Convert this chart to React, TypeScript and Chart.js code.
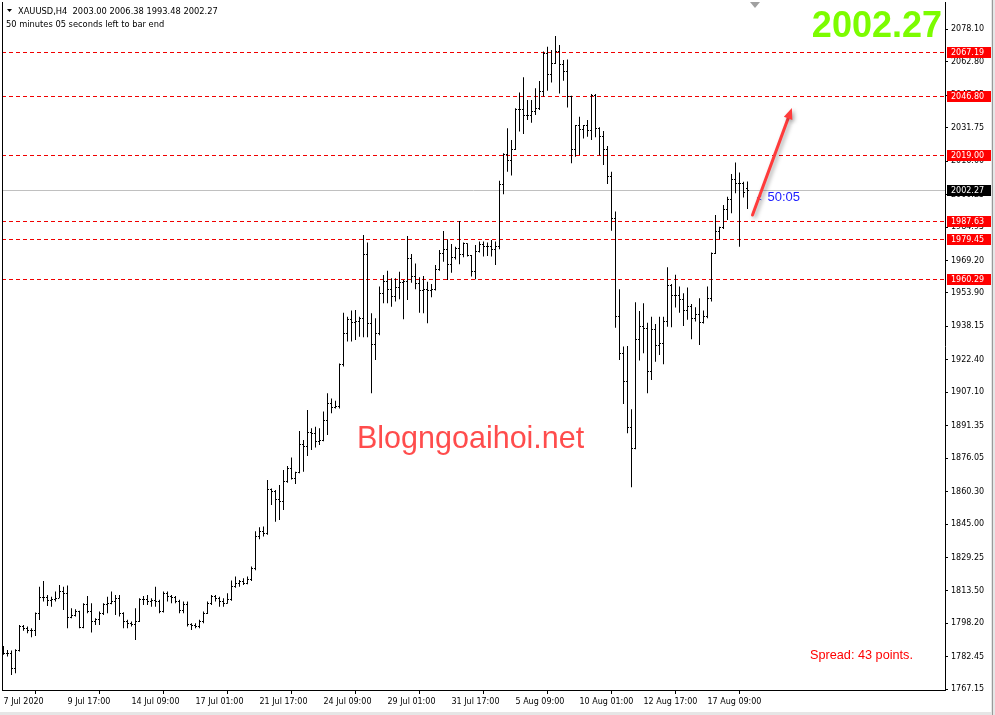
import React, { useEffect, useRef } from 'react';
import { Chart, registerables } from 'chart.js';

Chart.register(...registerables);

// ---- DATA (XAUUSD H4, bar index 0 = 7 Jul 2020 01:00) ----
const opens = [
  1785.4, 1784.1, 1783.8, 1777.1, 1785.4, 1796.7, 1795.9, 1794.8, 1794.8, 1803.0,
  1810.5, 1810.5, 1808.9, 1809.6, 1810.0, 1813.2, 1812.4, 1801.1, 1801.7, 1803.8,
  1796.4, 1806.9, 1803.8, 1799.1, 1799.9, 1803.0, 1807.2, 1807.7, 1808.5, 1810.0,
  1803.0, 1799.1, 1798.3, 1797.5, 1799.1, 1809.3, 1809.6, 1808.5, 1808.9, 1808.5,
  1803.8, 1812.4, 1810.8, 1810.5, 1808.5, 1804.5, 1806.9, 1797.5, 1797.0, 1796.7,
  1799.1, 1803.0, 1807.7, 1811.1, 1810.0, 1808.5, 1807.7, 1809.3, 1815.5, 1816.8,
  1817.9, 1817.1, 1818.7, 1824.2, 1839.1, 1841.4, 1840.6, 1861.1, 1860.3, 1856.4,
  1855.6, 1865.0, 1871.3, 1866.6, 1869.2, 1882.7, 1881.5, 1888.1, 1887.8, 1883.8,
  1884.6, 1893.7, 1901.9, 1900.0, 1900.6, 1920.0, 1934.9, 1941.5, 1939.9, 1940.4,
  1941.9, 1971.8, 1939.6, 1929.7, 1934.9, 1953.7, 1959.5, 1955.6, 1952.2, 1956.5,
  1958.7, 1959.2, 1970.2, 1961.6, 1958.4, 1955.0, 1955.3, 1955.0, 1955.3, 1964.7,
  1972.6, 1974.4, 1967.5, 1970.7, 1974.9, 1972.2, 1977.0, 1971.3, 1964.2, 1973.6,
  1976.5, 1975.7, 1976.0, 1974.4, 1975.7, 2005.2, 2018.9, 2016.5, 2021.7, 2040.1,
  2040.1, 2037.3, 2037.3, 2039.3, 2040.9, 2048.7, 2066.5, 2056.6, 2062.1, 2067.6,
  2061.3, 2058.1, 2046.4, 2021.7, 2032.6, 2030.7, 2032.6, 2030.2, 2047.0, 2031.5,
  2027.8, 2021.7, 2008.7, 1989.0, 1943.0, 1925.5, 1912.1, 1890.6, 1880.4, 1932.1,
  1938.0, 1937.2, 1916.8, 1936.8, 1929.1, 1930.2, 1940.4, 1957.6, 1952.9, 1952.9,
  1950.9, 1945.4, 1947.7, 1941.9, 1943.5, 1939.9, 1942.7, 1951.4, 1972.6, 1982.8,
  1984.8, 1993.0, 1997.7, 2007.1, 2005.5, 2005.5, 2003.0,
];
const highs = [
  1787.6, 1785.7, 1785.4, 1786.0, 1797.5, 1797.5, 1796.7, 1795.9, 1803.3, 1815.5,
  1818.2, 1811.6, 1810.8, 1813.2, 1816.3, 1815.5, 1816.0, 1805.3, 1804.9, 1804.2,
  1807.7, 1811.1, 1807.7, 1800.6, 1803.8, 1807.7, 1810.8, 1813.2, 1811.6, 1811.6,
  1803.5, 1799.9, 1799.1, 1805.3, 1810.0, 1811.1, 1811.6, 1810.0, 1815.5, 1809.3,
  1813.2, 1813.2, 1811.6, 1811.1, 1809.3, 1808.5, 1808.5, 1798.3, 1798.3, 1799.9,
  1803.8, 1808.5, 1811.6, 1811.6, 1810.8, 1810.0, 1812.4, 1818.4, 1820.3, 1818.7,
  1819.5, 1820.3, 1825.0, 1841.6, 1843.5, 1843.8, 1865.8, 1861.8, 1861.1, 1863.4,
  1870.5, 1872.4, 1876.4, 1869.7, 1888.8, 1884.6, 1898.7, 1890.1, 1890.9, 1890.1,
  1898.0, 1906.6, 1904.2, 1903.1, 1920.7, 1944.6, 1942.7, 1945.6, 1945.9, 1942.7,
  1981.2, 1977.6, 1944.3, 1942.0, 1956.9, 1962.3, 1964.4, 1960.8, 1960.8, 1963.9,
  1960.0, 1980.7, 1972.2, 1967.8, 1961.3, 1961.9, 1959.2, 1958.1, 1967.1, 1974.1,
  1983.1, 1979.2, 1977.0, 1975.7, 1987.8, 1977.6, 1977.3, 1971.8, 1976.5, 1978.1,
  1978.1, 1977.6, 1978.8, 1978.1, 2006.7, 2019.7, 2031.5, 2026.0, 2040.9, 2048.3,
  2055.5, 2044.8, 2044.8, 2050.3, 2053.7, 2067.6, 2069.9, 2068.4, 2074.9, 2070.7,
  2063.6, 2063.9, 2046.8, 2033.0, 2036.9, 2033.0, 2035.4, 2047.6, 2047.6, 2032.0,
  2030.2, 2023.1, 2011.0, 1992.2, 1955.6, 1928.6, 1928.9, 1899.1, 1949.5, 1945.4,
  1949.0, 1939.9, 1942.7, 1939.3, 1942.7, 1942.7, 1966.0, 1958.1, 1962.4, 1956.9,
  1953.7, 1956.5, 1948.7, 1947.1, 1951.4, 1945.6, 1956.9, 1972.9, 1990.6, 1985.1,
  1995.3, 1999.2, 2009.9, 2015.3, 2010.6, 2006.3, 2006.38,
];
const lows = [
  1783.4, 1782.6, 1773.9, 1774.7, 1784.9, 1794.7, 1793.6, 1791.7, 1792.3, 1799.8,
  1808.5, 1806.4, 1806.1, 1808.5, 1810.0, 1804.5, 1795.9, 1800.6, 1801.4, 1795.9,
  1795.9, 1803.0, 1793.9, 1797.5, 1797.5, 1802.2, 1803.0, 1807.2, 1802.2, 1801.4,
  1795.9, 1795.9, 1796.7, 1790.4, 1798.8, 1806.9, 1806.9, 1806.1, 1806.1, 1803.0,
  1803.3, 1808.5, 1807.7, 1807.7, 1803.0, 1803.0, 1796.7, 1795.1, 1795.9, 1795.9,
  1798.3, 1802.6, 1806.9, 1808.5, 1806.1, 1806.1, 1807.4, 1808.9, 1815.0, 1815.5,
  1816.3, 1816.6, 1818.2, 1823.2, 1837.8, 1839.1, 1840.0, 1854.0, 1846.1, 1846.9,
  1851.6, 1864.5, 1866.0, 1863.9, 1868.9, 1869.7, 1877.1, 1879.9, 1881.1, 1882.2,
  1884.0, 1887.0, 1897.2, 1899.5, 1899.5, 1919.2, 1931.0, 1931.0, 1931.7, 1933.3,
  1933.0, 1933.0, 1906.6, 1922.3, 1934.0, 1949.0, 1949.0, 1947.4, 1949.8, 1950.9,
  1941.5, 1950.6, 1958.7, 1955.6, 1944.6, 1944.3, 1939.6, 1951.8, 1955.0, 1964.4,
  1968.6, 1960.0, 1963.4, 1969.7, 1967.4, 1970.7, 1971.0, 1961.6, 1960.3, 1972.9,
  1971.0, 1971.3, 1971.0, 1967.1, 1974.5, 2000.4, 2011.0, 2009.2, 2021.2, 2029.9,
  2028.8, 2035.4, 2034.1, 2037.7, 2040.1, 2046.4, 2049.2, 2053.0, 2061.8, 2047.9,
  2053.9, 2041.2, 2015.0, 2018.1, 2018.9, 2026.7, 2027.5, 2026.0, 2027.2, 2018.7,
  2014.2, 2005.2, 1983.2, 1937.5, 1922.3, 1901.6, 1887.8, 1862.3, 1880.2, 1922.0,
  1925.5, 1906.6, 1912.9, 1921.5, 1924.7, 1920.3, 1938.0, 1937.7, 1947.0, 1944.6,
  1938.3, 1941.2, 1932.1, 1940.4, 1929.4, 1939.5, 1942.0, 1949.8, 1972.2, 1979.2,
  1984.0, 1988.3, 1991.4, 2000.8, 1975.7, 1998.9, 1993.48,
];
const closes = [
  1784.1, 1783.8, 1777.1, 1785.4, 1796.7, 1795.9, 1794.8, 1794.8, 1803.0, 1810.5,
  1810.5, 1808.9, 1809.6, 1810.0, 1813.2, 1812.4, 1801.1, 1801.7, 1803.8, 1796.4,
  1806.9, 1803.8, 1799.1, 1799.9, 1803.0, 1807.2, 1807.7, 1808.5, 1810.0, 1803.0,
  1799.1, 1798.3, 1797.5, 1799.1, 1809.3, 1809.6, 1808.5, 1808.9, 1808.5, 1803.8,
  1812.4, 1810.8, 1810.5, 1808.5, 1804.5, 1806.9, 1797.5, 1797.0, 1796.7, 1799.1,
  1803.0, 1807.7, 1811.1, 1810.0, 1808.5, 1807.7, 1809.3, 1815.5, 1816.8, 1817.9,
  1817.1, 1818.7, 1824.2, 1839.1, 1841.4, 1840.6, 1861.1, 1860.3, 1856.4, 1855.6,
  1865.0, 1871.3, 1866.6, 1869.2, 1882.7, 1881.5, 1888.1, 1887.8, 1883.8, 1884.6,
  1893.7, 1901.9, 1900.0, 1900.6, 1920.0, 1934.9, 1941.5, 1939.9, 1940.4, 1941.9,
  1971.8, 1939.6, 1929.7, 1934.9, 1953.7, 1959.5, 1955.6, 1952.2, 1956.5, 1958.7,
  1959.2, 1970.2, 1961.6, 1958.4, 1955.0, 1955.3, 1955.0, 1955.3, 1964.7, 1972.6,
  1974.4, 1967.5, 1970.7, 1974.9, 1972.2, 1977.0, 1971.3, 1964.2, 1973.6, 1976.5,
  1975.7, 1976.0, 1974.4, 1975.7, 2005.2, 2018.9, 2016.5, 2021.7, 2040.1, 2040.1,
  2037.3, 2037.3, 2039.3, 2040.9, 2048.7, 2066.5, 2056.6, 2062.1, 2067.6, 2061.3,
  2058.1, 2046.4, 2021.7, 2032.6, 2030.7, 2032.6, 2030.2, 2047.0, 2031.5, 2027.8,
  2021.7, 2008.7, 1989.0, 1943.0, 1925.5, 1912.1, 1890.6, 1880.4, 1932.1, 1938.0,
  1937.2, 1916.8, 1936.8, 1929.1, 1930.2, 1940.4, 1957.6, 1952.9, 1952.9, 1950.9,
  1945.4, 1947.7, 1941.9, 1943.5, 1939.9, 1942.7, 1951.4, 1972.6, 1982.8, 1984.8,
  1993.0, 1997.7, 2007.1, 2005.5, 2005.5, 2001.1, 2002.27,
];

const xTickIndex = [0, 16, 32, 48, 64, 80, 96, 112, 128, 144, 160, 176];
const xTickLabels = [
  '7 Jul 2020', '9 Jul 17:00', '14 Jul 09:00', '17 Jul 01:00', '21 Jul 17:00', '24 Jul 09:00',
  '29 Jul 01:00', '31 Jul 17:00', '5 Aug 09:00', '10 Aug 01:00', '12 Aug 17:00', '17 Aug 09:00',
];
const yTickValues = [
  2078.10, 2062.80, 2047.05, 2031.75, 2016.00, 2000.25, 1984.95, 1969.20, 1953.90, 1938.15,
  1922.40, 1907.10, 1891.35, 1876.05, 1860.30, 1845.00, 1829.25, 1813.50, 1798.20, 1782.45, 1767.15,
];
const levelValues = [2067.19, 2046.80, 2019.00, 1987.63, 1979.45, 1960.29];
const bidValue = 2002.27;
const symbolLine = 'XAUUSD,H4  2003.00 2006.38 1993.48 2002.27';
const timerLine = '50 minutes 05 seconds left to bar end';
const timerShort = '50:05';
const spreadText = 'Spread: 43 points.';
const watermark = 'Blogngoaihoi.net';
const arrowFrom = { x: 187.25, y: 1990.6 };
const arrowTo = { x: 197.1, y: 2041.0 };

const FONT = "'Liberation Sans', Arial, sans-serif";
const SMALL = "'DejaVu Sans', Verdana, sans-serif";

const mt4Plugin = {
  id: 'mt4Overlay',
  beforeDatasetsDraw(chart: any) {
    const { ctx, chartArea: a } = chart;
    const y = chart.scales.y;
    ctx.save();
    ctx.lineWidth = 1;
    const by = Math.round(y.getPixelForValue(bidValue)) + 0.5;
    ctx.strokeStyle = '#c0c0c0';
    ctx.beginPath();
    ctx.moveTo(a.left, by);
    ctx.lineTo(a.right, by);
    ctx.stroke();
    ctx.strokeStyle = '#f00000';
    ctx.setLineDash([4, 3]);
    levelValues.forEach((v) => {
      const py = Math.round(y.getPixelForValue(v)) + 0.5;
      ctx.beginPath();
      ctx.moveTo(a.left, py);
      ctx.lineTo(a.right, py);
      ctx.stroke();
    });
    ctx.restore();
  },
  afterDatasetsDraw(chart: any) {
    const { ctx } = chart;
    const x = chart.scales.x;
    const y = chart.scales.y;
    ctx.save();
    ctx.fillStyle = '#000';
    for (let i = 0; i < opens.length; i++) {
      const col = Math.round(x.getPixelForValue(i) - 0.5);
      const yo = Math.floor(y.getPixelForValue(opens[i]));
      const yc = Math.floor(y.getPixelForValue(closes[i]));
      ctx.fillRect(col - 1, yo, 1, 1);
      ctx.fillRect(col + 1, yc, 1, 1);
    }
    ctx.restore();
  },
  afterDraw(chart: any) {
    const { ctx, chartArea: a } = chart;
    const x = chart.scales.x;
    const y = chart.scales.y;
    ctx.save();
    ctx.strokeStyle = '#000';
    ctx.lineWidth = 1;
    ctx.beginPath();
    ctx.moveTo(a.left + 0.5, a.top);
    ctx.lineTo(a.left + 0.5, a.bottom);
    ctx.stroke();

    // window edges
    ctx.fillStyle = '#e6e6e6';
    ctx.fillRect(991, 0, 4, 715);
    ctx.fillRect(0, 712, 995, 3);
    ctx.fillStyle = '#9a9a9a';
    ctx.fillRect(992, 0, 1, 715);

    // right-axis price labels
    ctx.font = `8px ${SMALL}`;
    ctx.textBaseline = 'middle';
    ctx.textAlign = 'left';
    const drawBox = (v: number, bg: string) => {
      const py = Math.round(y.getPixelForValue(v));
      ctx.fillStyle = bg;
      ctx.fillRect(a.right + 2, py - 5, 44, 11);
      ctx.fillStyle = '#fff';
      ctx.fillText(v.toFixed(2), a.right + 6, py + 0.5);
    };
    levelValues.forEach((v) => drawBox(v, '#ff0000'));
    drawBox(bidValue, '#000000');

    // header
    ctx.fillStyle = '#000';
    ctx.beginPath();
    ctx.moveTo(7, 9);
    ctx.lineTo(12, 9);
    ctx.lineTo(9.5, 12);
    ctx.closePath();
    ctx.fill();
    ctx.font = `8.3px ${SMALL}`;
    ctx.textBaseline = 'alphabetic';
    ctx.fillText(symbolLine, 18, 14);
    ctx.fillText(timerLine, 6, 27);

    // shift marker
    ctx.fillStyle = '#a0a0a0';
    ctx.beginPath();
    ctx.moveTo(750, 2);
    ctx.lineTo(760, 2);
    ctx.lineTo(755, 8);
    ctx.closePath();
    ctx.fill();

    // big price
    ctx.fillStyle = '#7cfc00';
    ctx.font = `bold 36px ${FONT}`;
    ctx.textAlign = 'right';
    ctx.fillText(bidValue.toFixed(2), 942, 37);

    // watermark
    ctx.textAlign = 'left';
    ctx.fillStyle = 'rgba(255,45,45,0.85)';
    ctx.font = `30.5px ${FONT}`;
    ctx.fillText(watermark, 357, 448);

    // spread
    ctx.fillStyle = '#ff0000';
    ctx.font = `12.7px ${FONT}`;
    ctx.fillText(spreadText, 810, 659);

    // timer near last bar
    const lastX = x.getPixelForValue(opens.length - 1);
    const bidY = y.getPixelForValue(bidValue);
    ctx.fillStyle = '#2020ff';
    ctx.font = `13px ${FONT}`;
    ctx.fillText(timerShort, lastX + 20, bidY + 11);
    ctx.font = `9px ${FONT}`;
    ctx.fillText('<', lastX + 9, bidY + 11);

    // arrow
    const x0 = x.getPixelForValue(arrowFrom.x);
    const y0 = y.getPixelForValue(arrowFrom.y);
    const x1 = x.getPixelForValue(arrowTo.x);
    const y1 = y.getPixelForValue(arrowTo.y);
    const dx = x1 - x0, dy = y1 - y0;
    const len = Math.hypot(dx, dy);
    const ux = dx / len, uy = dy / len;
    const hl = 11, hw = 4.5;
    const bx = x1 - ux * hl, byy = y1 - uy * hl;
    ctx.shadowColor = 'rgba(0,0,0,0.35)';
    ctx.shadowBlur = 4;
    ctx.shadowOffsetX = 2;
    ctx.shadowOffsetY = 2;
    ctx.strokeStyle = '#ff3b3b';
    ctx.fillStyle = '#ff3b3b';
    ctx.lineWidth = 3;
    ctx.lineCap = 'round';
    ctx.beginPath();
    ctx.moveTo(x0, y0);
    ctx.lineTo(bx, byy);
    ctx.stroke();
    ctx.beginPath();
    ctx.moveTo(x1, y1);
    ctx.lineTo(bx - uy * hw, byy + ux * hw);
    ctx.lineTo(bx + uy * hw, byy - ux * hw);
    ctx.closePath();
    ctx.fill();
    ctx.restore();
  },
};

export default function App() {
  const ref = useRef<HTMLCanvasElement | null>(null);
  useEffect(() => {
    if (!ref.current) return;
    const chart = new Chart(ref.current, {
      type: 'bar',
      data: {
        datasets: [
          {
            data: lows.map((l, i) => ({ x: i, y: [l, highs[i]] })) as any,
            backgroundColor: '#000',
            borderWidth: 0,
            barThickness: 1,
            inflateAmount: 0,
            grouped: false,
          } as any,
        ],
      },
      options: {
        animation: false,
        responsive: false,
        devicePixelRatio: 1,
        events: [],
        layout: { padding: { left: 2, top: 2, right: 0, bottom: 0 } },
        plugins: { legend: { display: false }, tooltip: { enabled: false } },
        scales: {
          x: {
            type: 'linear',
            min: -0.375,
            max: 235.375,
            offset: false,
            bounds: 'data',
            afterBuildTicks: (s: any) => {
              s.ticks = xTickIndex.map((v) => ({ value: v }));
            },
            afterFit: (s: any) => {
              s.height = 25;
              s.paddingLeft = 0;
              s.paddingRight = 0;
            },
            ticks: {
              autoSkip: false,
              maxRotation: 0,
              minRotation: 0,
              align: 'start',
              padding: 3,
              color: '#000',
              font: { family: SMALL, size: 8 },
              callback: (_v: any, idx: number) => xTickLabels[idx],
            },
            grid: { drawOnChartArea: false, drawTicks: true, tickLength: 4, color: '#000', tickColor: '#000' },
            border: { display: true, color: '#000', width: 1 },
          } as any,
          y: {
            type: 'linear',
            position: 'right',
            min: 1766.82,
            max: 2090.96,
            bounds: 'data',
            afterBuildTicks: (s: any) => {
              s.ticks = yTickValues.map((v) => ({ value: v }));
            },
            afterFit: (s: any) => {
              s.width = 50;
              s.paddingTop = 0;
              s.paddingBottom = 0;
            },
            ticks: {
              autoSkip: false,
              padding: 3,
              color: '#000',
              font: { family: SMALL, size: 8 },
              callback: (v: any) => Number(v).toFixed(2),
            },
            grid: { drawOnChartArea: false, drawTicks: true, tickLength: 3, color: '#000', tickColor: '#000' },
            border: { display: true, color: '#000', width: 1 },
          } as any,
        },
      },
      plugins: [mt4Plugin],
    });
    return () => chart.destroy();
  }, []);
  return (
    <div style={{ position: 'fixed', left: 0, top: 0, width: 995, height: 715, background: '#fff' }}>
      <canvas ref={ref} width={995} height={715} style={{ display: 'block', width: 995, height: 715 }} />
    </div>
  );
}
